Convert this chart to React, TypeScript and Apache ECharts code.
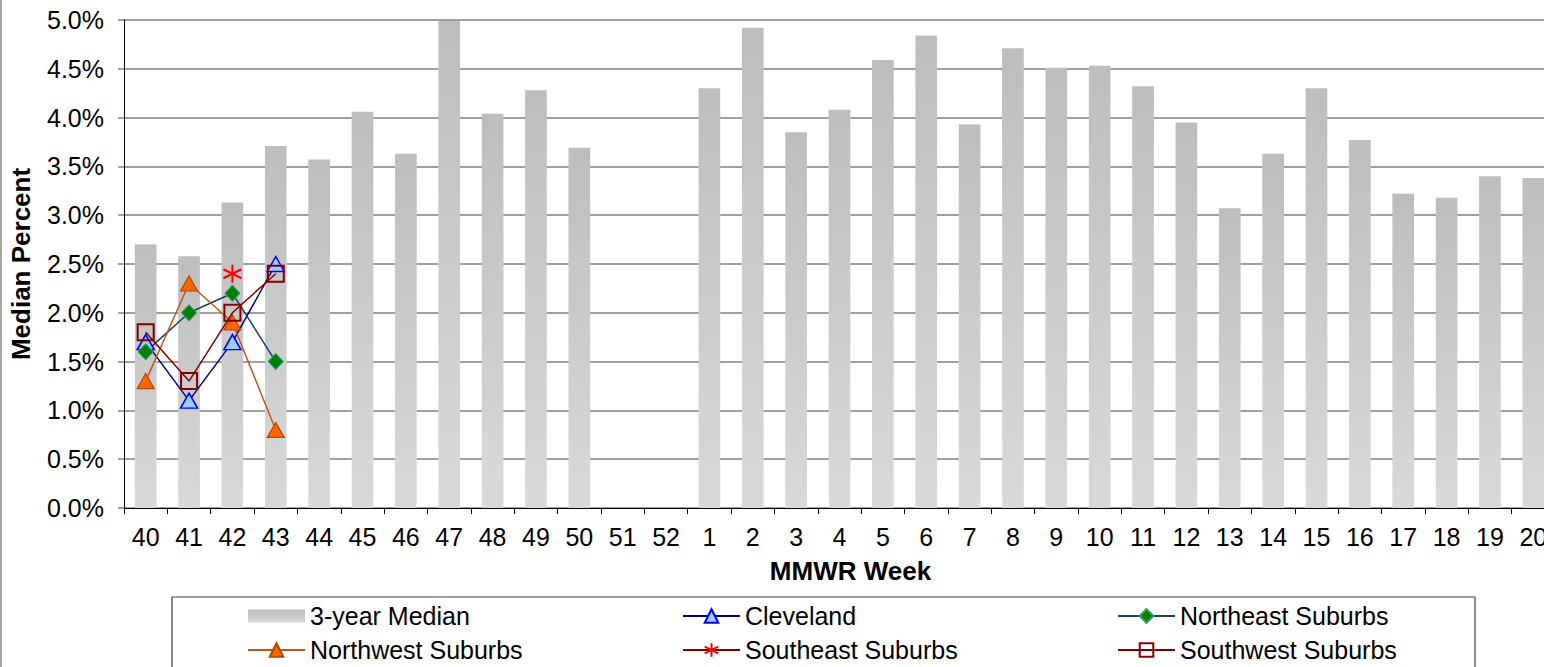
import React, { useEffect, useRef } from "react";
import * as echarts from "echarts";

const weeks = [
  "40", "41", "42", "43", "44", "45", "46", "47", "48", "49", "50", "51", "52",
  "1", "2", "3", "4", "5", "6", "7", "8", "9", "10", "11", "12", "13", "14", "15", "16", "17", "18", "19", "20",
];

const median3yr = [
  2.70, 2.58, 3.13, 3.71, 3.57, 4.06, 3.63, 4.99, 4.04, 4.28, 3.69, null, null,
  4.30, 4.92, 3.85, 4.08, 4.59, 4.84, 3.93, 4.71, 4.51, 4.53, 4.32, 3.95, 3.07, 3.63, 4.30, 3.77, 3.22, 3.18, 3.40, 3.38,
];

const cleveland = [1.7, 1.1, 1.7, 2.5];
const northeast = [1.6, 2.0, 2.2, 1.5];
const northwest = [1.3, 2.3, 1.9, 0.8];
const southeast = [null, null, 2.4];
const southwest = [1.8, 1.3, 2.0, 2.4];

const yTicks = { min: 0, max: 5, interval: 0.5 };

const FONT = "'Liberation Sans', Arial, sans-serif";

export default function App() {
  const ref = useRef<HTMLDivElement>(null);

  useEffect(() => {
    if (!ref.current) return;
    const chart = echarts.init(ref.current, null, { renderer: "svg" });

    const legendCommon = {
      orient: "vertical",
      top: 603.5,
      padding: 0,
      itemWidth: 57,
      itemHeight: 17,
      itemGap: 9,
      selectedMode: false,
      textStyle: { fontSize: 25, fontFamily: FONT, color: "#000", lineHeight: 25 },
    };

    const starPath = "path://M8,0V16M1,4L15,12M1,12L15,4";

    chart.setOption({
      animation: false,
      grid: { left: 123, right: 1, top: 20, bottom: 159, containLabel: false },
      xAxis: {
        type: "category",
        data: weeks,
        boundaryGap: true,
        name: "MMWR Week",
        nameLocation: "middle",
        nameGap: 50,
        nameTextStyle: {
          fontSize: 26,
          fontWeight: "bold",
          fontFamily: FONT,
          color: "#000",
          padding: [0, 0, 0, 22],
        },
        axisLine: { lineStyle: { color: "#000", width: 1 } },
        axisTick: { show: true, length: 6, lineStyle: { color: "#000", width: 1 } },
        axisLabel: { fontSize: 25, fontFamily: FONT, color: "#000", margin: 16, interval: 0 },
        splitLine: { show: false },
      },
      yAxis: {
        type: "value",
        min: yTicks.min,
        max: yTicks.max,
        interval: yTicks.interval,
        name: "Median Percent",
        nameLocation: "middle",
        nameGap: 90,
        nameTextStyle: { fontSize: 26, fontWeight: "bold", fontFamily: FONT, color: "#000" },
        axisLine: { show: true, lineStyle: { color: "#000", width: 1 } },
        axisTick: { show: true, length: 6, lineStyle: { color: "#808080", width: 1.5 } },
        axisLabel: {
          fontSize: 25,
          fontFamily: FONT,
          color: "#000",
          margin: 20,
          formatter: (v: number) => v.toFixed(1) + "%",
        },
        splitLine: { show: true, lineStyle: { color: "#808080", width: 1.5 } },
      },
      legend: [
        {
          ...legendCommon,
          left: 247,
          data: [
            { name: "3-year Median", icon: "path://M0,0H57V13H0Z" },
            "Northwest Suburbs",
          ],
        },
        { ...legendCommon, left: 682, data: ["Cleveland", "Southeast Suburbs"] },
        { ...legendCommon, left: 1117, data: ["Northeast Suburbs", "Southwest Suburbs"] },
      ],
      graphic: [
        {
          type: "rect",
          shape: { x: 172, y: 597, width: 1303, height: 100 },
          style: { fill: "none", stroke: "#404040", lineWidth: 1.2 },
          silent: true,
        },
        {
          type: "line",
          shape: { x1: 1, y1: 0, x2: 1, y2: 667 },
          style: { stroke: "#a6a6a6", lineWidth: 2 },
          silent: true,
        },
      ],
      series: [
        {
          name: "3-year Median",
          type: "bar",
          data: median3yr,
          barWidth: "50%",
          itemStyle: {
            color: new echarts.graphic.LinearGradient(0, 0, 0, 1, [
              { offset: 0, color: "#bdbdbd" },
              { offset: 1, color: "#d9d9d9" },
            ]),
          },
        },
        {
          name: "Cleveland",
          type: "line",
          data: cleveland,
          symbol: "triangle",
          symbolSize: [17, 15],
          lineStyle: { color: "#000080", width: 1.5 },
          itemStyle: { color: "#99ccff", borderColor: "#0000ff", borderWidth: 1.5 },
        },
        {
          name: "Northeast Suburbs",
          type: "line",
          data: northeast,
          symbol: "diamond",
          symbolSize: [15, 16],
          lineStyle: { color: "#17406b", width: 1.5 },
          itemStyle: { color: "#008000", borderColor: "#2e9a5e", borderWidth: 1 },
        },
        {
          name: "Northwest Suburbs",
          type: "line",
          data: northwest,
          symbol: "triangle",
          symbolSize: [17, 15],
          lineStyle: { color: "#c0561a", width: 1.5 },
          itemStyle: { color: "#ff6600", borderColor: "#b34700", borderWidth: 1.2 },
        },
        {
          name: "Southeast Suburbs",
          type: "line",
          data: southeast,
          symbol: starPath,
          symbolSize: 18,
          lineStyle: { color: "#800000", width: 1.5 },
          itemStyle: { color: "#ff0000", borderColor: "#ff0000", borderWidth: 2 },
        },
        {
          name: "Southwest Suburbs",
          type: "line",
          data: southwest,
          symbol: "rect",
          symbolSize: 16,
          lineStyle: { color: "#800000", width: 1.5 },
          itemStyle: { color: "rgba(255,255,255,0)", borderColor: "#800000", borderWidth: 2 },
        },
      ],
    });

    return () => chart.dispose();
  }, []);

  return (
    <div
      style={{
        position: "absolute",
        left: 0,
        top: 0,
        width: 1544,
        height: 667,
        overflow: "hidden",
      }}
    >
      <div ref={ref} style={{ width: 1556, height: 667 }} />
    </div>
  );
}
